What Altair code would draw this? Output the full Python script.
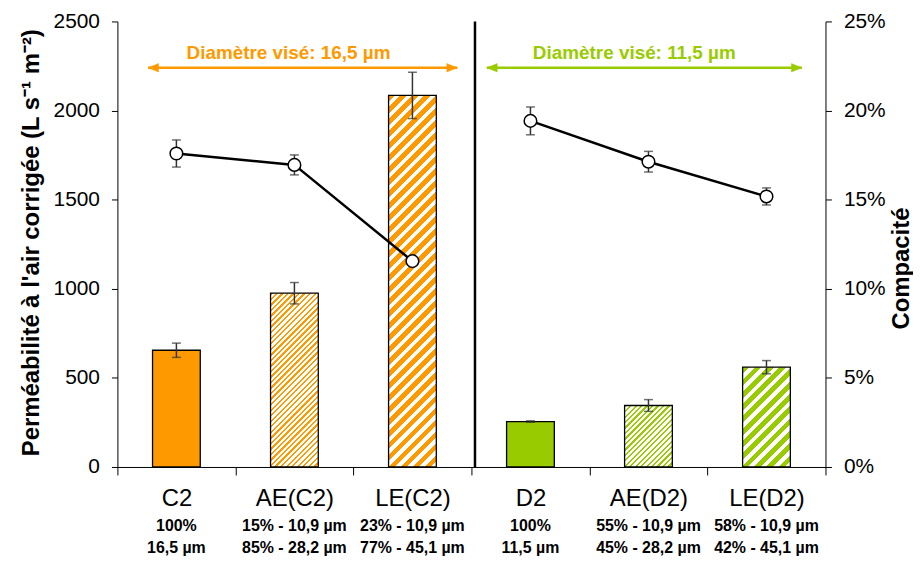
import altair as alt
import pandas as pd

# ---------------- data ----------------
categories = ["C2", "AE(C2)", "LE(C2)", "D2", "AE(D2)", "LE(D2)"]
groups = ["C", "C", "C", "D", "D", "D"]
permeability = [655, 975, 2085, 255, 345, 560]
permeability_err = [40, 60, 130, 4, 33, 37]
compacity = [0.1759, 0.1695, 0.1155, 0.1942, 0.1713, 0.1518]
compacity_err = [0.0076, 0.0056, 0.0, 0.0078, 0.0058, 0.0048]
sub_line1 = ["100%", "15% - 10,9 µm", "23% - 10,9 µm", "100%", "55% - 10,9 µm", "58% - 10,9 µm"]
sub_line2 = ["16,5 µm", "85% - 28,2 µm", "77% - 45,1 µm", "11,5 µm", "45% - 28,2 µm", "42% - 45,1 µm"]
bar_colors = ["#FF9900", "#FF9900", "#FF9900", "#99CC00", "#99CC00", "#99CC00"]
bar_patterns = ["solid", "fine", "wide", "solid", "fine", "wide"]

ann_texts = ["Diamètre visé: 16,5 µm", "Diamètre visé: 11,5 µm"]
ann_colors = ["#FF9900", "#99CC00"]
ann_start = ["C2", "D2"]
ann_end = ["LE(C2)", "LE(D2)"]
ann_text_cat = ["AE(C2)", "AE(D2)"]
ann_arrow_y = [2240, 2240]
ann_text_y = [2290, 2290]

# ---------------- layout / style ----------------
W, H = 712, 448
YMAX = 2500
FONT = "Liberation Sans"
NARROW = "Liberation Sans Narrow, Liberation Sans"
BAR_W = 48

df = pd.DataFrame({
    "cat": categories,
    "group": groups,
    "perm": permeability,
    "perm_lo": [v - e for v, e in zip(permeability, permeability_err)],
    "perm_hi": [v + e for v, e in zip(permeability, permeability_err)],
    "comp": compacity,
    "comp_lo": [v - e for v, e in zip(compacity, compacity_err)],
    "comp_hi": [v + e for v, e in zip(compacity, compacity_err)],
    "sub": [a + "\n" + b for a, b in zip(sub_line1, sub_line2)],
})

xscale = alt.Scale(domain=categories, paddingInner=0, paddingOuter=0)
xaxis = alt.Axis(title=None, labelFont=NARROW, labelFontSize=24, labelColor="black",
                 labelPadding=12, labelAngle=0, tickBand="extent", tickSize=8,
                 tickColor="black", domainColor="black", tickWidth=1, domainWidth=1,
                 grid=False)


def X(field="cat", bp=None):
    kw = {}
    if bp is not None:
        kw["bandPosition"] = bp
    return alt.X(f"{field}:N", scale=xscale, axis=xaxis, sort=categories, title=None, **kw)


YTITLE_L = "Perméabilité à l'air corrigée (L s⁻¹ m⁻²)"
yscale_l = alt.Scale(domain=[0, YMAX], nice=False, zero=True)
yaxis_l = alt.Axis(values=[0, 500, 1000, 1500, 2000, 2500], labelFont=FONT, labelFontSize=21,
                   labelColor="black", labelPadding=12, tickSize=6, tickColor="black",
                   domainColor="black", grid=False, titleFont=FONT, titleFontSize=24,
                   titleFontWeight="bold", titleColor="black", titlePadding=10, format="d",
                   titleY=222)


def YL(field):
    return alt.Y(f"{field}:Q", scale=yscale_l, axis=yaxis_l, title=YTITLE_L)


YTITLE_R = "Compacité"
yscale_r = alt.Scale(domain=[0, 0.25], nice=False, zero=True)
yaxis_r = alt.Axis(orient="right", values=[0, 0.05, 0.10, 0.15, 0.20, 0.25], format=".0%",
                   labelFont=FONT, labelFontSize=21, labelColor="black", labelPadding=12,
                   tickSize=6, tickColor="black", domainColor="black", grid=False,
                   titleFont=FONT, titleFontSize=24, titleFontWeight="bold",
                   titleColor="black", titlePadding=4, titleAngle=-90, titleBaseline="top",
                   titleY=248)


def YR(field):
    return alt.Y(f"{field}:Q", scale=yscale_r, axis=yaxis_r, title=YTITLE_R)


def stripe_fill(color, value, pattern):
    if pattern == "solid":
        return color
    if pattern == "fine":
        period, frac = 5.5, 0.42
    else:
        period, frac = 12.0, 0.55
    w = float(BAR_W)
    h = value / YMAX * H
    n = max(1, round((w + h) / period))
    k = (w + h) * w * h / (w * w + h * h)
    stops = []
    for i in range(n):
        a = i / n
        b = (i + frac) / n
        c = (i + 1) / n
        stops += [alt.GradientStop(offset=a, color=color),
                  alt.GradientStop(offset=b, color=color),
                  alt.GradientStop(offset=b, color="white"),
                  alt.GradientStop(offset=c, color="white")]
    return alt.LinearGradient(gradient="linear", stops=stops, x1=0, y1=0, x2=k / h, y2=k / w)


base = alt.Chart(df)

left_layers = []
# bars
for cat, val, col, pat in zip(categories, permeability, bar_colors, bar_patterns):
    left_layers.append(
        base.transform_filter(alt.datum.cat == cat)
        .mark_bar(width=BAR_W, fill=stripe_fill(col, val, pat), stroke="black", strokeWidth=1.3)
        .encode(x=X(), y=YL("perm"))
    )
# bar error bars
left_layers.append(base.mark_rule(color="#333333", strokeWidth=1.5)
                   .encode(x=X(), y=YL("perm_lo"), y2="perm_hi"))
left_layers.append(base.mark_tick(color="#333333", size=9, thickness=1.5)
                   .encode(x=X(), y=YL("perm_lo")))
left_layers.append(base.mark_tick(color="#333333", size=9, thickness=1.5)
                   .encode(x=X(), y=YL("perm_hi")))

# divider between the two series
div_df = pd.DataFrame({"cat": ["D2"]})
left_layers.append(alt.Chart(div_df).mark_rule(color="black", strokeWidth=2.5)
                   .encode(x=X(bp=0.03)))

# annotations: arrows and text
arrow_pos = [(0.26, 0.88), (0.13, 0.80)]
text_pos = [0.45, 0.38]
for i in range(2):
    adf = pd.DataFrame({"cat": [ann_start[i]], "end": [ann_end[i]],
                        "ay": [ann_arrow_y[i]]})
    left_layers.append(alt.Chart(adf).mark_rule(color=ann_colors[i], strokeWidth=2.5)
                       .encode(x=X(bp=arrow_pos[i][0]),
                               x2=alt.X2("end:N", bandPosition=arrow_pos[i][1]),
                               y=YL("ay")))
    ldf = pd.DataFrame({"cat": [ann_start[i]], "ay": [ann_arrow_y[i]]})
    left_layers.append(alt.Chart(ldf).mark_point(shape="M0,0L2,-0.8L2,0.8Z", size=110,
                                                 filled=True, fill=ann_colors[i],
                                                 stroke=ann_colors[i], strokeWidth=0.5, opacity=1)
                       .encode(x=X(bp=arrow_pos[i][0]), y=YL("ay")))
    rdf = pd.DataFrame({"cat": [ann_end[i]], "ay": [ann_arrow_y[i]]})
    left_layers.append(alt.Chart(rdf).mark_point(shape="M0,0L-2,-0.8L-2,0.8Z", size=110,
                                                 filled=True, fill=ann_colors[i],
                                                 stroke=ann_colors[i], strokeWidth=0.5, opacity=1)
                       .encode(x=X(bp=arrow_pos[i][1]), y=YL("ay")))
    tdf = pd.DataFrame({"cat": [ann_text_cat[i]], "ty": [ann_text_y[i]], "t": [ann_texts[i]]})
    left_layers.append(alt.Chart(tdf).mark_text(font=FONT, fontSize=19, fontWeight="bold",
                                                color=ann_colors[i], baseline="alphabetic",
                                                align="center")
                       .encode(x=X(bp=text_pos[i]), y=YL("ty"), text="t:N"))

# sub labels under the x axis
left_layers.append(base.mark_text(font=NARROW, fontSize=16, fontWeight="bold", color="black",
                                  lineBreak="\n", lineHeight=22, baseline="top", align="center")
                   .encode(x=X(), y=alt.value(H + 51), text="sub:N"))

left = alt.layer(*left_layers)

right_layers = [
    base.mark_rule(color="#333333", strokeWidth=1.5)
    .encode(x=X(), y=YR("comp_lo"), y2="comp_hi"),
    base.transform_filter(alt.datum.comp_hi > alt.datum.comp_lo)
    .mark_tick(color="#333333", size=9, thickness=1.5).encode(x=X(), y=YR("comp_lo")),
    base.transform_filter(alt.datum.comp_hi > alt.datum.comp_lo)
    .mark_tick(color="#333333", size=9, thickness=1.5).encode(x=X(), y=YR("comp_hi")),
    base.mark_line(color="black", strokeWidth=2.5)
    .encode(x=X(), y=YR("comp"), detail="group:N"),
    base.mark_point(filled=True, fill="white", stroke="black", strokeWidth=1.5, size=160,
                    opacity=1).encode(x=X(), y=YR("comp")),
]
right = alt.layer(*right_layers)

chart = (
    alt.layer(left, right)
    .resolve_scale(y="independent")
    .properties(width=W, height=H, autosize=alt.AutoSizeParams(type="none"),
                padding={"left": 110, "top": 12, "right": 88, "bottom": 90},
                background="white")
    .configure_view(strokeWidth=0)
)

chart.save("out.html", embed_options={"renderer": "svg", "actions": False})
